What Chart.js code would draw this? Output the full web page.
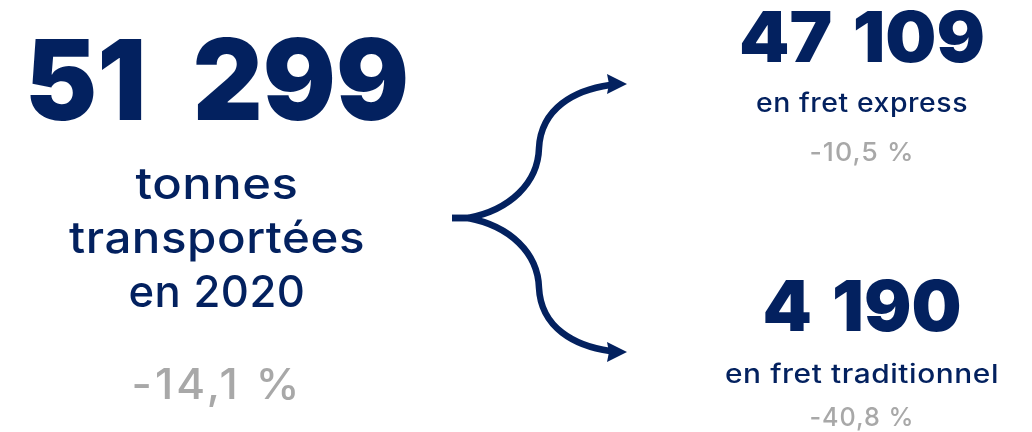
<!DOCTYPE html>
<html>
<head>
<meta charset="utf-8">
<script src="https://cdn.jsdelivr.net/npm/chart.js@4/dist/chart.umd.min.js"></script>
<style>
  html, body { margin: 0; padding: 0; background: #ffffff; }
  #wrap { width: 1032px; height: 432px; }
</style>
</head>
<body>
<div id="wrap"><canvas id="infographic" width="1032" height="432"></canvas></div>
<script>
// tonnage figures, 2020
const totalTonnes = 51299;
const totalLabel = ["tonnes", "transportées", "en 2020"];
const totalChange = -14.1;

const splitLabels = ["en fret express", "en fret traditionnel"];
const splitTonnes = [47109, 4190];
const splitChanges = [-10.5, -40.8];

const NAVY = "#03215f";
const GREY = "#a8a8a8";
const FONT = "Inter, 'Open Sans', sans-serif";

// "51299" -> "51 299"
const fmtTonnes = (v) => String(v).replace(/\B(?=(\d{3})+(?!\d))/g, " ");
// -14.1 -> "-14,1 %"
const fmtChange = (v) => v.toFixed(1).replace(".", ",") + " %";

// draw text centred at (x, baseline); optional target width stretches horizontally
function drawText(ctx, text, x, y, size, weight, color, width, opts) {
  opts = opts || {};
  ctx.save();
  ctx.font = weight + " " + size + "px " + FONT;
  ctx.fillStyle = color;
  ctx.textAlign = "center";
  ctx.textBaseline = "alphabetic";
  if (opts.letter) ctx.letterSpacing = opts.letter + "px";
  if (opts.word) ctx.wordSpacing = opts.word + "px";
  const w = ctx.measureText(text).width;
  const sx = width ? width / w : 1;
  ctx.translate(x, y);
  ctx.scale(sx, 1);
  ctx.fillText(text, 0, 0);
  ctx.restore();
}

function drawArrow(ctx, xs, ys, dir) {
  const px = (v) => xs.getPixelForValue(v);
  const py = (v) => ys.getPixelForValue(v);
  const mid = 218;
  ctx.save();
  ctx.strokeStyle = NAVY;
  ctx.fillStyle = NAVY;
  ctx.lineWidth = 6.5;
  ctx.lineCap = "butt";
  ctx.beginPath();
  ctx.moveTo(px(452), py(mid));
  ctx.lineTo(px(468), py(mid));
  ctx.bezierCurveTo(px(510), py(mid + dir * 8), px(538), py(mid + dir * 35), px(539), py(mid + dir * 70));
  ctx.bezierCurveTo(px(541), py(mid + dir * 110), px(575), py(mid + dir * 128), px(610), py(mid + dir * 133));
  ctx.stroke();
  // head
  const tipY = mid + dir * 134;
  ctx.beginPath();
  ctx.moveTo(px(627), py(tipY));
  ctx.lineTo(px(607), py(tipY - 10));
  ctx.lineTo(px(609), py(tipY));
  ctx.lineTo(px(607), py(tipY + 10));
  ctx.closePath();
  ctx.fill();
  ctx.restore();
}

const infoPlugin = {
  id: "infoText",
  afterDraw(chart) {
    const ctx = chart.ctx;
    const xs = chart.scales.x;
    const ys = chart.scales.y;
    const px = (v) => xs.getPixelForValue(v);
    const py = (v) => ys.getPixelForValue(v);

    // left block: total
    drawText(ctx, fmtTonnes(totalTonnes), px(217), py(120), 112, 900, NAVY, 384, { word: 26 });
    const lineY = [199, 253, 307];
    const lineW = [163, 296, 177];
    totalLabel.forEach((t, i) => {
      drawText(ctx, t, px(217), py(lineY[i]), 44, 500, NAVY, lineW[i], { letter: 0.5 });
    });
    drawText(ctx, fmtChange(totalChange), px(217), py(399), 42, 500, GREY, 171, { letter: 3 });

    // arrows
    drawArrow(ctx, xs, ys, -1);
    drawArrow(ctx, xs, ys, 1);

    // right blocks
    const numY = [62, 331];
    const numW = [246, 199];
    const labY = [112, 383];
    const labW = [212, 274];
    const chgY = [161, 426];
    const chgW = [105, 105];
    splitTonnes.forEach((v, i) => {
      drawText(ctx, fmtTonnes(v), px(862), py(numY[i]), 70, 900, NAVY, numW[i], { word: 6 });
      drawText(ctx, splitLabels[i], px(862), py(labY[i]), 26, 500, NAVY, labW[i], { letter: 0.5 });
      drawText(ctx, fmtChange(splitChanges[i]), px(862), py(chgY[i]), 26, 500, GREY, chgW[i], { letter: 1 });
    });
  }
};

new Chart(document.getElementById("infographic"), {
  type: "scatter",
  data: { datasets: [{ data: [], pointRadius: 0 }] },
  options: {
    responsive: false,
    animation: false,
    events: [],
    layout: { padding: 0 },
    plugins: { legend: { display: false }, tooltip: { enabled: false } },
    scales: {
      x: { display: false, min: 0, max: 1032 },
      y: { display: false, min: 0, max: 432, reverse: true }
    }
  },
  plugins: [infoPlugin]
});
</script>
</body>
</html>
